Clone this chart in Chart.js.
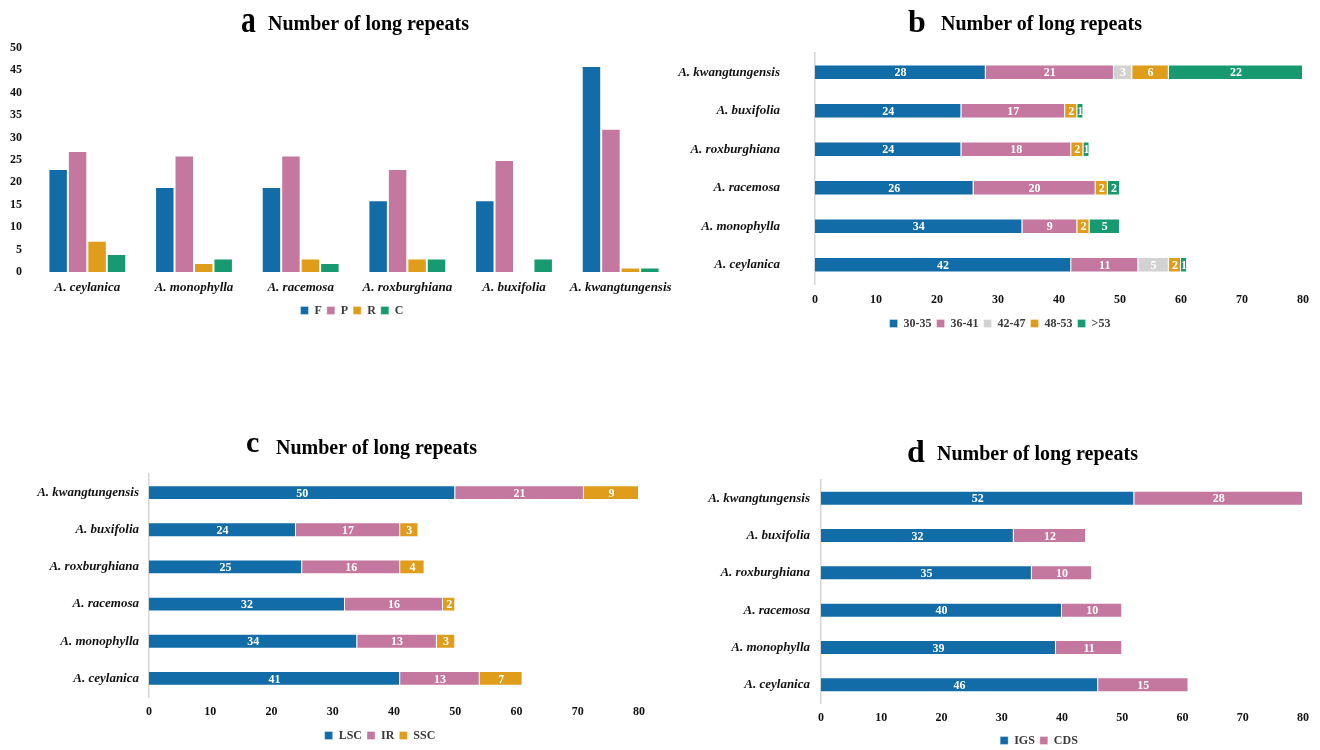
<!DOCTYPE html>
<html>
<head>
<meta charset="utf-8">
<title>Number of long repeats</title>
<script src="https://cdn.jsdelivr.net/npm/chart.js@4.4.1/dist/chart.umd.min.js"></script>
<style>
  html, body { margin: 0; padding: 0; background: #fff; }
  body { width: 1320px; height: 750px; position: relative; overflow: hidden;
         font-family: "Liberation Serif", "Times New Roman", serif; }
  .panel { position: absolute; }
  .panel canvas { display: block; }
  .ttl { position: absolute; line-height: 1; font-weight: bold; color: #000; white-space: nowrap; }
  .ttl.letter { transform-origin: left bottom; }
</style>
</head>
<body>

<div class="panel" id="pa" style="left:0px;top:0px;"><canvas id="ca" width="690" height="335"></canvas></div>
<div class="panel" id="pb" style="left:660px;top:0px;"><canvas id="cb" width="660" height="345"></canvas></div>
<div class="panel" id="pc" style="left:0px;top:420px;"><canvas id="cc" width="680" height="335"></canvas></div>
<div class="panel" id="pd" style="left:680px;top:420px;"><canvas id="cd" width="640" height="335"></canvas></div>

<div class="ttl letter" id="ta" style="font-size:38px;left:241px;">a</div>
<div class="ttl" id="tta" style="font-size:20px;left:268px;">Number of long repeats</div>
<div class="ttl letter" id="tb" style="font-size:32px;left:908px;">b</div>
<div class="ttl" id="ttb" style="font-size:20px;left:941px;">Number of long repeats</div>
<div class="ttl letter" id="tc" style="font-size:30px;left:246px;">c</div>
<div class="ttl" id="ttc" style="font-size:20px;left:276px;">Number of long repeats</div>
<div class="ttl letter" id="td" style="font-size:32px;left:907px;">d</div>
<div class="ttl" id="ttd" style="font-size:20px;left:937px;">Number of long repeats</div>

<script>
// ---- data ----
const species = ['A. ceylanica', 'A. monophylla', 'A. racemosa', 'A. roxburghiana', 'A. buxifolia', 'A. kwangtungensis'];

// a: repeat types (forward, palindromic, reverse, complement)
const typeNames = ['F', 'P', 'R', 'C'];
const typeF = [23, 19, 19, 16, 16, 46];
const typeP = [27, 26, 26, 23, 25, 32];
const typeR = [7, 2, 3, 3, 0, 1];
const typeC = [4, 3, 2, 3, 3, 1];

// b: repeat length classes
const lengthNames = ['30-35', '36-41', '42-47', '48-53', '>53'];
const len30to35 = [42, 34, 26, 24, 24, 28];
const len36to41 = [11, 9, 20, 18, 17, 21];
const len42to47 = [5, 0, 0, 0, 0, 3];
const len48to53 = [2, 2, 2, 2, 2, 6];
const lenOver53 = [1, 5, 2, 1, 1, 22];

// c: location by genome region
const regionNames = ['LSC', 'IR', 'SSC'];
const regionLSC = [41, 34, 32, 25, 24, 50];
const regionIR = [13, 13, 16, 16, 17, 21];
const regionSSC = [7, 3, 2, 4, 3, 9];

// d: location by sequence type
const seqNames = ['IGS', 'CDS'];
const seqIGS = [46, 39, 40, 35, 32, 52];
const seqCDS = [15, 11, 10, 10, 12, 28];

// axis tick settings
const countAxisMax = 50, countAxisStep = 5;
const stackAxisMax = 80, stackAxisStep = 10;

// ---- styling ----
const COL = {
  blue: '#116ca8',
  pink: '#c4779f',
  gray: '#d2d2d2',
  orange: '#e09c1b',
  green: '#179a70'
};
const SERIF = '"Liberation Serif", "Times New Roman", serif';

Chart.defaults.font.family = SERIF;
Chart.defaults.font.weight = 'bold';
Chart.defaults.font.size = 12;
Chart.defaults.color = '#111';
Chart.defaults.animation = false;

// title text placement from a baseline (line-height 1, Liberation metrics)
function placeTitle(id, baseline, scaleX) {
  const el = document.getElementById(id);
  const fs = parseFloat(el.style.fontSize);
  el.style.top = (baseline - 0.8375 * fs) + 'px';
  if (scaleX) el.style.transform = 'scaleX(' + scaleX + ')';
}
placeTitle('ta', 32, 0.78);  placeTitle('tta', 29.5);
placeTitle('tb', 31.5);      placeTitle('ttb', 29.5);
placeTitle('tc', 452);       placeTitle('ttc', 453.5);
placeTitle('td', 461.5);     placeTitle('ttd', 460);

// white value labels centred inside each bar segment
const barValueLabels = {
  id: 'barValueLabels',
  afterDatasetsDraw(chart, args, opts) {
    if (!opts || !opts.show) return;
    const ctx = chart.ctx;
    ctx.save();
    ctx.font = 'bold 12px ' + SERIF;
    ctx.fillStyle = '#ffffff';
    ctx.textAlign = 'center';
    ctx.textBaseline = 'middle';
    chart.data.datasets.forEach((ds, di) => {
      const meta = chart.getDatasetMeta(di);
      if (meta.hidden) return;
      meta.data.forEach((bar, i) => {
        const v = ds.data[i];
        if (!v) return;
        const p = bar.getCenterPoint();
        ctx.fillText(String(v), p.x, p.y + 1);
      });
    });
    ctx.restore();
  }
};

// centre the legend row on a chosen point of the canvas
const legendPlace = {
  id: 'legendPlace',
  afterLayout(chart, args, opts) {
    const lg = chart.legend;
    if (!lg || !opts || opts.x == null) return;
    const w = lg.right - lg.left, h = lg.bottom - lg.top;
    lg.left = opts.x - w / 2; lg.right = lg.left + w;
    lg.top = opts.y - h / 2;  lg.bottom = lg.top + h;
  }
};

function legendOpts() {
  return {
    position: 'bottom',
    labels: {
      boxWidth: 8, boxHeight: 8, padding: 5,
      font: { size: 12, weight: 'bold', family: SERIF },
      color: '#3a3a3a'
    }
  };
}

function ds(label, data, color) {
  return { label, data, backgroundColor: color, borderColor: 'rgba(255,255,255,0.35)', borderWidth: 1 };
}

// ---- panel a: grouped columns ----
new Chart(document.getElementById('ca'), {
  type: 'bar',
  data: {
    labels: species,
    datasets: [
      ds(typeNames[0], typeF, COL.blue),
      ds(typeNames[1], typeP, COL.pink),
      ds(typeNames[2], typeR, COL.orange),
      ds(typeNames[3], typeC, COL.green)
    ]
  },
  options: {
    responsive: false,
    maintainAspectRatio: false,
    layout: { padding: { top: 48, left: 0, right: 16, bottom: 6 } },
    datasets: { bar: { categoryPercentage: 0.73, barPercentage: 1 } },
    scales: {
      x: {
        grid: { display: false, drawTicks: false },
        border: { display: false },
        ticks: { font: { size: 13, style: 'italic', weight: 'bold' }, padding: 8, color: '#111', maxRotation: 0, autoSkip: false },
        afterFit(s) { s.height = 30; }
      },
      y: {
        min: 0, max: countAxisMax,
        grid: { display: false, drawTicks: false },
        border: { display: false },
        ticks: { stepSize: countAxisStep, padding: 12, font: { size: 12, weight: 'bold' }, color: '#111' },
        afterFit(s) { s.width = 34; }
      }
    },
    plugins: {
      legend: legendOpts(),
      legendPlace: { x: 352, y: 313 },
      tooltip: { enabled: false }
    }
  },
  plugins: [legendPlace]
});

// ---- stacked horizontal bar panels ----
function stackedBars(canvasId, datasets, geom) {
  return new Chart(document.getElementById(canvasId), {
    type: 'bar',
    data: { labels: species, datasets },
    options: {
      indexAxis: 'y',
      responsive: false,
      maintainAspectRatio: false,
      layout: { padding: { top: geom.top, left: 0, right: geom.right, bottom: geom.bottom } },
      datasets: { bar: { categoryPercentage: 1, barPercentage: 0.4 } },
      scales: {
        x: {
          stacked: true, min: 0, max: stackAxisMax,
          grid: { display: false, drawTicks: false },
          border: { display: false },
          ticks: { stepSize: stackAxisStep, padding: geom.xPad, font: { size: 12, weight: 'bold' }, color: '#111' },
          afterFit(s) { s.height = geom.xHeight; }
        },
        y: {
          stacked: true, reverse: true,
          grid: { display: false, drawTicks: false },
          border: { display: true, color: '#d6d6d6', width: 1.5 },
          ticks: { padding: geom.yPad, font: { size: 13, style: 'italic', weight: 'bold' }, color: '#111', autoSkip: false },
          afterFit(s) { s.width = geom.yWidth; }
        }
      },
      plugins: {
        legend: legendOpts(),
        legendPlace: { x: geom.legendX, y: geom.legendY },
        barValueLabels: { show: true },
        tooltip: { enabled: false }
      }
    },
    plugins: [legendPlace, barValueLabels]
  });
}

// b: length classes
stackedBars('cb', [
  ds(lengthNames[0], len30to35, COL.blue),
  ds(lengthNames[1], len36to41, COL.pink),
  ds(lengthNames[2], len42to47, COL.gray),
  ds(lengthNames[3], len48to53, COL.orange),
  ds(lengthNames[4], lenOver53, COL.green)
], { top: 53, right: 17, bottom: 6, xHeight: 28, xPad: 9, yWidth: 155, yPad: 35, legendX: 340, legendY: 326 });

// c: genome regions
stackedBars('cc', [
  ds(regionNames[0], regionLSC, COL.blue),
  ds(regionNames[1], regionIR, COL.pink),
  ds(regionNames[2], regionSSC, COL.orange)
], { top: 54, right: 41, bottom: 5, xHeight: 26, xPad: 8, yWidth: 149, yPad: 10, legendX: 380, legendY: 318 });

// d: sequence types
stackedBars('cd', [
  ds(seqNames[0], seqIGS, COL.blue),
  ds(seqNames[1], seqCDS, COL.pink)
], { top: 59.5, right: 17, bottom: 2.5, xHeight: 22, xPad: 7, yWidth: 141, yPad: 11, legendX: 359, legendY: 323 });
</script>
</body>
</html>
